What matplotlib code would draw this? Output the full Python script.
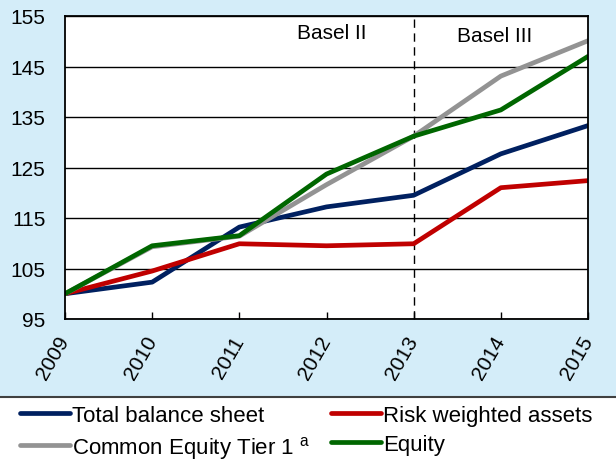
import matplotlib.pyplot as plt
import numpy as np

plt.rcParams['font.family'] = ['Liberation Sans', 'DejaVu Sans']
plt.rcParams['mathtext.fontset'] = 'custom'
plt.rcParams['mathtext.rm'] = 'Liberation Sans'

# Data (index, 2009 = 100)
years = [2009, 2010, 2011, 2012, 2013, 2014, 2015]
total_balance = [100, 102.3, 113.2, 117.2, 119.5, 127.7, 133.3]
risk_weighted = [100, 104.5, 109.9, 109.5, 109.9, 121.0, 122.4]
cet1 = [100, 109.3, 111.4, 121.6, 131.2, 143.1, 150.1]
equity = [100, 109.5, 111.5, 123.7, 131.2, 136.4, 147.0]

yticks = [95, 105, 115, 125, 135, 145, 155]

FS = 15
bg = '#D4EDF9'
fig = plt.figure(figsize=(6.16, 4.64), dpi=100, facecolor=bg)
ax = fig.add_axes([65/616, 1-320/464, 523/616, 303/464])
ax.set_facecolor('white')

l1, = ax.plot(years, total_balance, color='#002060', lw=3.4, solid_capstyle='round',
              label='Total balance sheet')
l2, = ax.plot(years, risk_weighted, color='#C00000', lw=3.4, solid_capstyle='round',
              label='Risk weighted assets')
l3, = ax.plot(years, cet1, color='#939393', lw=3.4, solid_capstyle='round',
              label='Common Equity Tier 1 $^{\\mathrm{a}}$')
l4, = ax.plot(years, equity, color='#006600', lw=3.4, solid_capstyle='round',
              label='Equity')

ax.axvline(2013, color='black', lw=1, linestyle=(0, (6, 4)), zorder=1)
ax.text(2012.06, 151.8, 'Basel II', ha='center', va='center', fontsize=FS)
ax.text(2013.93, 151.2, 'Basel III', ha='center', va='center', fontsize=FS)

ax.set_xlim(2009, 2015)
ax.set_ylim(95, 155)
ax.set_yticks(yticks)
ax.set_xticks(years)
ax.set_xticklabels([str(y) for y in years], rotation=60, ha='right', va='center',
                   rotation_mode='anchor', fontsize=FS)
ax.tick_params(axis='y', length=0, labelsize=FS, pad=14)
ax.tick_params(axis='x', direction='in', length=5, width=1, pad=13)
ax.grid(axis='y', color='black', lw=1)
ax.set_axisbelow(True)
for s in ax.spines.values():
    s.set_linewidth(1.3)

# legend panel
lax = fig.add_axes([0, 0, 1, 66/464])
lax.set_facecolor('white')
lax.set_xticks([])
lax.set_yticks([])
for k in ['left', 'right', 'bottom']:
    lax.spines[k].set_visible(False)
lax.spines['top'].set_color('#404040')
lax.spines['top'].set_linewidth(1.5)

lax.legend([l1, l3, l2, l4],
           [l1.get_label(), l3.get_label(), l2.get_label(), l4.get_label()],
           ncol=2, loc='upper left', bbox_to_anchor=(20/616, 0.88), frameon=False,
           fontsize=16, handlelength=2.25, handletextpad=0.1, columnspacing=0.9,
           labelspacing=0.35, borderaxespad=0, borderpad=0)

fig.savefig('out.png', dpi=100, facecolor=bg)
